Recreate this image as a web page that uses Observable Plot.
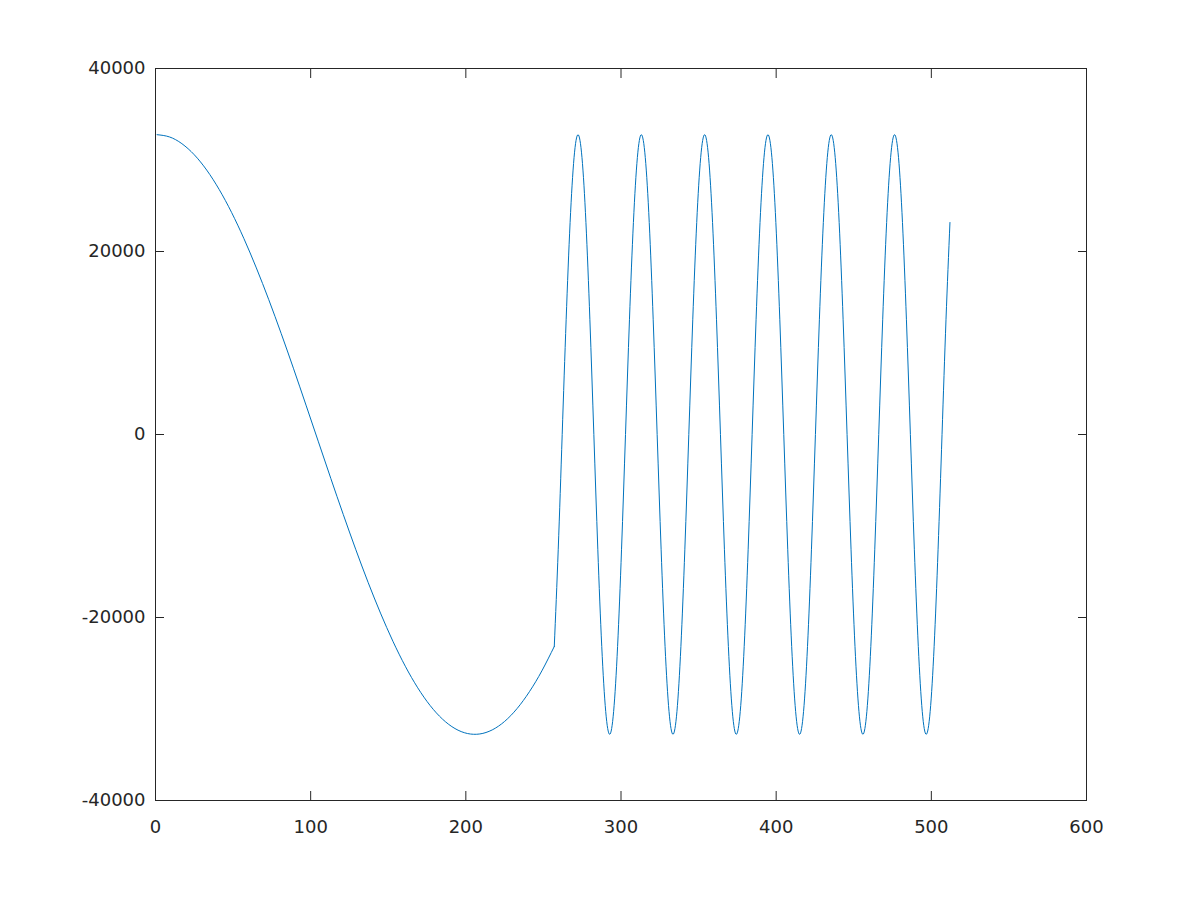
<!DOCTYPE html>
<html>
<head>
<meta charset="utf-8">
<script src="https://cdn.jsdelivr.net/npm/d3@7"></script>
<script src="https://cdn.jsdelivr.net/npm/@observablehq/plot@0.6"></script>
<style>
  html, body { margin: 0; padding: 0; background: #ffffff; }
  #chart { width: 1200px; height: 900px; }
</style>
</head>
<body>
<div id="chart"></div>
<script>
// Slow segment (samples 1..257, every 8th sample)
const xFirst = [1, 9, 17, 25, 33, 41, 49, 57, 65, 73, 81, 89, 97, 105, 113, 121, 129,
  137, 145, 153, 161, 169, 177, 185, 193, 201, 209, 217, 225, 233, 241, 249, 257];
const yFirst = [32767, 32521, 31785, 30571, 28898, 26790, 24279, 21403, 18204, 14732, 11039, 7179, 3212,
  -804, -4808, -8739, -12539, -16151, -19519, -22594, -25329, -27683, -29621, -31113, -32137,
  -32678, -32728, -32285, -31356, -29956, -28105, -25832, -23170];

// Fast segment (samples 257..512)
const xSecond = [257, 259.55, 262.1, 264.65, 267.2, 269.75, 272.3, 274.85, 277.4, 279.95, 282.5, 285.05,
  287.6, 290.15, 292.7, 295.25, 297.8, 300.35, 302.9, 305.45, 308, 310.55, 313.1, 315.65, 318.2, 320.75,
  323.3, 325.85, 328.4, 330.95, 333.5, 336.05, 338.6, 341.15, 343.7, 346.25, 348.8, 351.35, 353.9, 356.45,
  359, 361.55, 364.1, 366.65, 369.2, 371.75, 374.3, 376.85, 379.4, 381.95, 384.5, 387.05, 389.6, 392.15,
  394.7, 397.25, 399.8, 402.35, 404.9, 407.45, 410, 412.55, 415.1, 417.65, 420.2, 422.75, 425.3, 427.85,
  430.4, 432.95, 435.5, 438.05, 440.6, 443.15, 445.7, 448.25, 450.8, 453.35, 455.9, 458.45, 461, 463.55,
  466.1, 468.65, 471.2, 473.75, 476.3, 478.85, 481.4, 483.95, 486.5, 489.05, 491.6, 494.15, 496.7, 499.25,
  501.8, 504.35, 506.9, 509.45, 512];
const ySecond = [
  -23170, -12539, 0, 12539, 23170, 30273, 32767, 30273, 23170, 12539, 0, -12539, -23170, -30273, -32767, -30273,
  -23170, -12539, 0, 12539, 23170, 30273, 32767, 30273, 23170, 12539, 0, -12539, -23170, -30273, -32767, -30273,
  -23170, -12539, 0, 12539, 23170, 30273, 32767, 30273, 23170, 12539, 0, -12539, -23170, -30273, -32767, -30273,
  -23170, -12539, 0, 12539, 23170, 30273, 32767, 30273, 23170, 12539, 0, -12539, -23170, -30273, -32767, -30273,
  -23170, -12539, 0, 12539, 23170, 30273, 32767, 30273, 23170, 12539, 0, -12539, -23170, -30273, -32767, -30273,
  -23170, -12539, 0, 12539, 23170, 30273, 32767, 30273, 23170, 12539, 0, -12539, -23170, -30273, -32767, -30273,
  -23170, -12539, 0, 12539, 23170];

const xTicks = [0, 100, 200, 300, 400, 500, 600];
const yTicks = [-40000, -20000, 0, 20000, 40000];

const rows = [
  ...xFirst.map((x, i) => ({x, y: yFirst[i], s: "a"})),
  ...xSecond.map((x, i) => ({x, y: ySecond[i], s: "b"}))
];

const ink = "#262626";
const blank = () => "";

const chart = Plot.plot({
  width: 1200,
  height: 900,
  marginLeft: 155,
  marginRight: 114,
  marginTop: 68,
  marginBottom: 100,
  style: {fontFamily: "'DejaVu Sans', sans-serif", fontSize: "18px", color: ink, background: "#ffffff"},
  x: {domain: [0, 600]},
  y: {domain: [-40000, 40000]},
  marks: [
    Plot.line(rows, {x: "x", y: "y", z: "s", stroke: "#0072BD", strokeWidth: 1, curve: "natural"}),
    Plot.frame({stroke: ink, strokeWidth: 1}),
    // inward ticks on all four sides
    Plot.axisX(xTicks, {anchor: "bottom", tickSize: -9, tickFormat: blank, stroke: ink, label: null}),
    Plot.axisX(xTicks, {anchor: "top", tickSize: -9, tickFormat: blank, stroke: ink, label: null}),
    Plot.axisY(yTicks, {anchor: "left", tickSize: -9, tickFormat: blank, stroke: ink, label: null}),
    Plot.axisY(yTicks, {anchor: "right", tickSize: -9, tickFormat: blank, stroke: ink, label: null}),
    // labels
    Plot.axisX(xTicks, {anchor: "bottom", tickSize: 0, tickPadding: 20, tickFormat: d => String(d), fill: ink, label: null}),
    Plot.axisY(yTicks, {anchor: "left", tickSize: 0, tickPadding: 10, tickFormat: d => String(d), fill: ink, label: null})
  ]
});
document.getElementById("chart").appendChild(chart);
</script>
</body>
</html>
